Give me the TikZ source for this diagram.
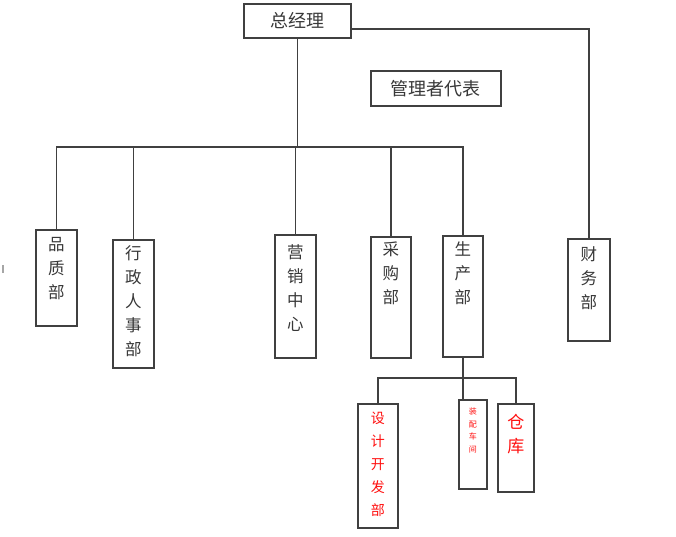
\documentclass[tikz,border=0pt]{standalone}
\usepackage{fontspec}
\newfontfamily\cjk{Noto Sans CJK SC}
\definecolor{linec}{HTML}{404040}
\definecolor{txtc}{HTML}{383838}
\definecolor{redc}{HTML}{FF1010}
\begin{document}
\begin{tikzpicture}[x=1pt,y=-1pt,
  box/.style={draw=linec, line width=1.5pt, anchor=north west, inner sep=0pt},
  conn/.style={draw=linec, line width=1.5pt},
  lab/.style={font=\cjk\fontsize{16.5}{24}\selectfont, text=txtc, align=center, anchor=north, inner sep=0pt},
  rlab/.style={lab, text=redc},
]
\useasboundingbox[fill=white] (0,0) rectangle (676,536);

% top boxes
\node[box, minimum width=107pt, minimum height=34pt] (zjl) at (243,3) {};
\node[lab, anchor=center, font=\cjk\fontsize{18}{18}\selectfont] (zjlt) at (zjl.center) {总经理};
\node[box, minimum width=130pt, minimum height=35pt] (gl) at (370,70) {};
\node[lab, anchor=center, font=\cjk\fontsize{18}{18}\selectfont] (glt) at (gl.center) {管理者代表};

% department boxes
\node[box, minimum width=41pt, minimum height=96pt] (pz) at (35,229) {};
\node[box, minimum width=41pt, minimum height=128pt] (xz) at (112,239) {};
\node[box, minimum width=41pt, minimum height=123pt] (yx) at (274,234) {};
\node[box, minimum width=40pt, minimum height=121pt] (cg) at (370,236) {};
\node[box, minimum width=40pt, minimum height=121pt] (sc) at (442,235) {};
\node[box, minimum width=42pt, minimum height=102pt] (cw) at (567,238) {};

\node[lab] (pzt) at ([yshift=-8pt]pz.north) {品\\质\\部};
\node[lab] (xzt) at ([yshift=-6pt]xz.north) {行\\政\\人\\事\\部};
\node[lab] (yxt) at ([yshift=-10pt]yx.north) {营\\销\\中\\心};
\node[lab] (cgt) at ([yshift=-6pt]cg.north) {采\\购\\部};
\node[lab] (sct) at ([yshift=-6pt]sc.north) {生\\产\\部};
\node[lab] (cwt) at ([yshift=-8pt]cw.north) {财\\务\\部};

% lower boxes
\node[box, minimum width=40pt, minimum height=124pt] (sj) at (357,403) {};
\node[box, minimum width=28pt, minimum height=89pt] (zp) at (458,399) {};
\node[box, minimum width=36pt, minimum height=88pt] (ck) at (497,403) {};

\node[rlab, font=\cjk\fontsize{14}{23}\selectfont] (sjt) at ([yshift=-9pt]sj.north) {设\\计\\开\\发\\部};
\node[rlab, font=\cjk\fontsize{8}{12.5}\selectfont] (zpt) at ([yshift=-9pt]zp.north) {装\\配\\车\\间};
\node[rlab, font=\cjk\fontsize{17}{24}\selectfont] (ckt) at ([yshift=-11pt]ck.north) {仓\\库};

% connectors
\coordinate (busy) at (0,147);
\coordinate (busb) at (0,378);
\draw[conn] (zjl.south) -- (zjl.south |- busy);
\draw[conn] (pz.north) |- (sc.north |- busy) -- (sc.north);
\draw[conn] (xz.north) -- (xz.north |- busy);
\draw[conn] (yx.north) -- (yx.north |- busy);
\draw[conn] (cg.north) -- (cg.north |- busy);
\draw[conn] ([yshift=-8pt]zjl.east) -| (cw.north);

\draw[conn] (sc.south) -- (sc.south |- zp.north);
\draw[conn] (sj.north) |- (ck.north |- busb) -- (ck.north);

% stray mark
\draw[draw=gray!70, line width=1.5pt] (3,265) -- (3,273);
\end{tikzpicture}
\end{document}
